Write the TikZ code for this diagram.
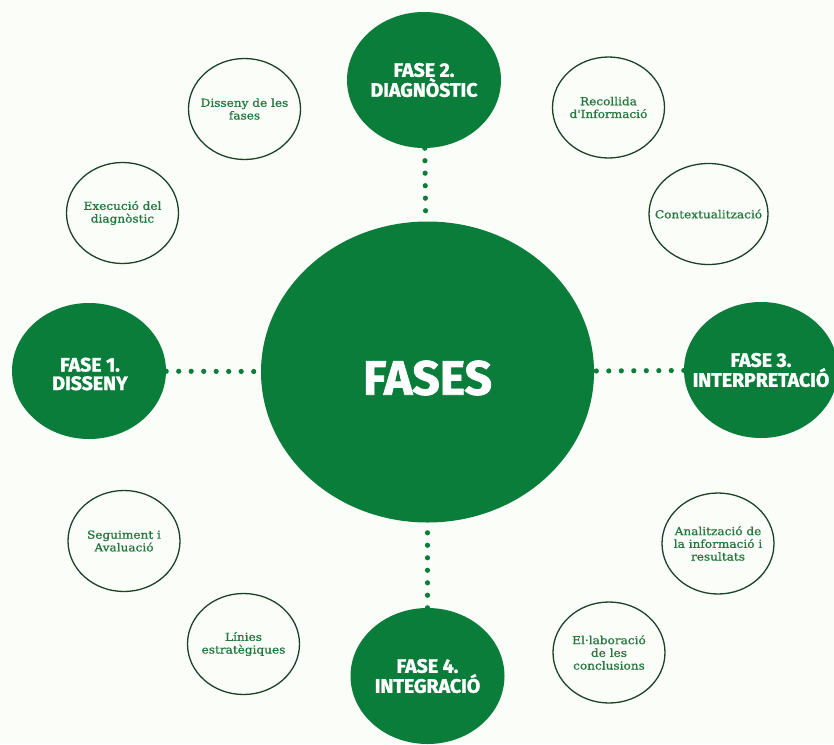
\documentclass[tikz,border=0pt]{standalone}
\usepackage{fontspec}
\setmainfont{DejaVu Serif}
\newfontfamily\taskfont[FakeBold=0.9, FakeStretch=1.1]{DejaVu Serif}
\newfontfamily\headfont[BoldFeatures={FakeBold=1.6}]{Fira Sans}
\usetikzlibrary{positioning,shapes.geometric}

\definecolor{fasegreen}{HTML}{0B7D3B}
\definecolor{inkgreen}{HTML}{23773F}
\definecolor{rimgreen}{HTML}{1A4229}
\definecolor{paper}{HTML}{FBFDF8}

\begin{document}
\begin{tikzpicture}[
  x=1pt, y=-1pt,
  hub/.style={ellipse, fill=fasegreen, minimum width=333pt, minimum height=301pt, inner sep=0pt},
  phase/.style={ellipse, fill=fasegreen, minimum width=154pt, minimum height=136pt, inner sep=0pt},
  phasetxt/.style={text=white, font=\headfont\bfseries\fontsize{19.5}{18.5}\selectfont, align=center, inner sep=0pt},
  task/.style={ellipse, draw=rimgreen, line width=1.3pt, minimum width=112pt, minimum height=101pt, inner sep=0pt},
  tasktxt/.style={text=inkgreen, font=\taskfont\fontsize{11}{12.7}\selectfont, align=center, inner sep=0pt},
  dots/.style={draw=fasegreen, line width=5.2pt, line cap=round, dash pattern=on 0pt off 12.5pt}
]

% -----------------------
% Canvas
% -----------------------
\clip (0,0) rectangle (834,744);
\fill[paper] (0,0) rectangle (834,744);

% -----------------------
% Centre and phases
% -----------------------
\node[hub] (fases) at (427.5,372) {};
\node[text=white, font=\headfont\bfseries\fontsize{48}{50}\selectfont, inner sep=0pt] (fasest) at (427.5,378) {FASES};

\node[phase] (fase1) at (89,371) {};
\node[phase] (fase2) at (424,80) {};
\node[phase] (fase3) at (761,370) {};
\node[phase] (fase4) at (427.5,676) {};

\node[phasetxt] (fase1t) at (90,374) {FASE 1.\\DISSENY};
\node[phasetxt] (fase2t) at (fase2) {FASE 2.\\DIAGNÒSTIC};
\node[phasetxt] (fase3t) at (fase3) {FASE 3.\\INTERPRETACIÓ};
\node[phasetxt] (fase4t) at (fase4) {FASE 4.\\INTEGRACIÓ};

% dotted links to the centre
\draw[dots] (fase1) -- (fases);
\draw[dots] (fase2) -- (fases);
\draw[dots] (fase3) -- (fases);
\draw[dots] (fase4) -- (fases);

% -----------------------
% Tasks (outlined circles)
% -----------------------
\node[task] (dis) at (244.5,109) {};
\node[task] (exe) at (122.5,213) {};
\node[task] (rec) at (608.5,107.5) {};
\node[task, minimum width=119pt] (ctx) at (708.5,214) {};
\node[task] (seg) at (124,541) {};
\node[task] (lin) at (243.5,644) {};
\node[task] (ana) at (718,543.5) {};
\node[task] (ela) at (609,652.5) {};

\node[tasktxt] (dist) at (dis) {Disseny de les\\fases};
\node[tasktxt] (exet) at (exe) {Execució del\\diagnòstic};
\node[tasktxt] (rect) at (rec) {Recollida\\d'Informació};
\node[tasktxt] (ctxt) at (ctx) {Contextualització};
\node[tasktxt] (segt) at (seg) {Seguiment i\\Avaluació};
\node[tasktxt] (lint) at (lin) {Línies\\estratègiques};
\node[tasktxt] (anat) at (ana) {Analització de\\la informació i\\resultats};
\node[tasktxt] (elat) at (ela) {El·laboració\\de les\\conclusions};

\end{tikzpicture}
\end{document}
